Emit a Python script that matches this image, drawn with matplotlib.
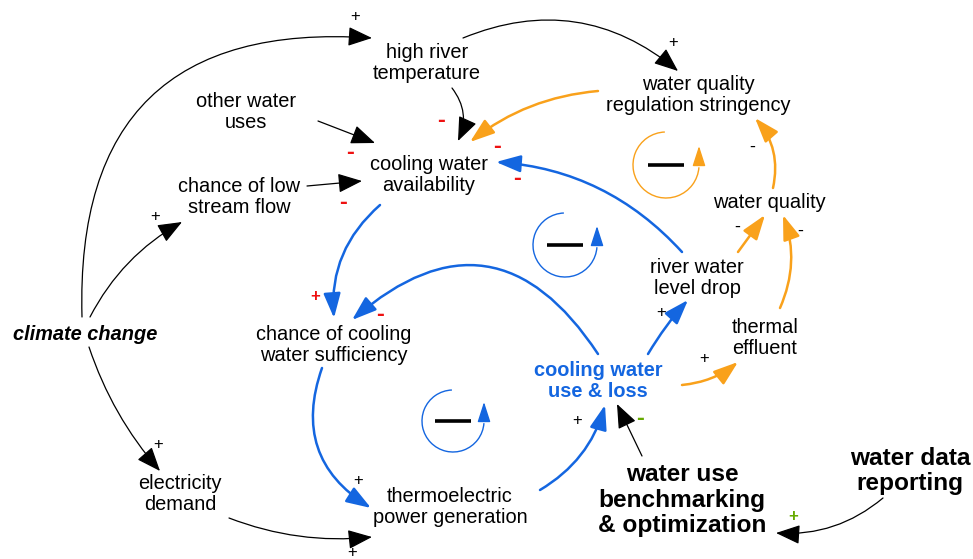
import matplotlib.pyplot as plt
from matplotlib.patches import FancyArrowPatch, Arc

plt.rcParams['font.family'] = ['Liberation Sans', 'DejaVu Sans']

# nodes of the causal loop diagram
node_names = ['hrt', 'wqrs', 'owu', 'cwa', 'lsf', 'wq', 'rwld', 'cc', 'ccws',
              'te', 'cwul', 'ed', 'tpg', 'wub', 'wdr']
node_labels = ['high river\ntemperature', 'water quality\nregulation stringency',
               'other water\nuses', 'cooling water\navailability',
               'chance of low\nstream flow', 'water quality',
               'river water\nlevel drop', 'climate change',
               'chance of cooling\nwater sufficiency', 'thermal\neffluent',
               'cooling water\nuse & loss', 'electricity\ndemand',
               'thermoelectric\npower generation',
               'water use\nbenchmarking\n& optimization',
               'water data\nreporting']

# causal links: source, target, polarity, link colour
edge_src = ['cc', 'cc', 'cc', 'ed', 'owu', 'lsf', 'hrt', 'hrt', 'wqrs', 'rwld',
            'cwa', 'cwul', 'ccws', 'tpg', 'cwul', 'cwul', 'te', 'rwld', 'wq',
            'wub', 'wdr']
edge_dst = ['hrt', 'lsf', 'ed', 'tpg', 'cwa', 'cwa', 'cwa', 'wqrs', 'cwa', 'cwa',
            'ccws', 'ccws', 'tpg', 'cwul', 'rwld', 'te', 'wq', 'wq', 'wqrs',
            'cwul', 'wub']
edge_sign = ['+', '+', '+', '+', '-', '-', '-', '+', '-', '-',
             '+', '-', '+', '+', '+', '+', '-', '-', '-', '-', '+']
edge_kind = ['k', 'k', 'k', 'k', 'k', 'k', 'k', 'k', 'o', 'b',
             'b', 'b', 'b', 'b', 'b', 'o', 'o', 'o', 'o', 'k', 'k']
sign_kind = ['k', 'k', 'k', 'k', 'r', 'r', 'r', 'k', 'r', 'r',
             'r', 'r', 'k', 'k', 'k', 'k', 'k', 'k', 'k', 'g', 'g']

# balancing loops: colour of each loop marker
loop_kind = ['o', 'b', 'b']

# ---- layout (pixel space of the picture) ----
node_xy = {'hrt': (427, 63), 'wqrs': (698, 95), 'owu': (246, 112),
           'cwa': (429, 175), 'lsf': (239, 197), 'wq': (769, 203),
           'rwld': (697, 278), 'cc': (85, 334), 'ccws': (334, 345),
           'te': (765, 338), 'cwul': (598, 381), 'ed': (180, 494),
           'tpg': (450, 507), 'wub': (682, 500), 'wdr': (910, 471)}
edge_start = [(82, 317), (90, 317), (89, 347), (229, 518), (318, 121), (307, 186),
              (452, 88), (463, 38), (598, 91), (682, 252), (380, 205), (598, 354),
              (322, 368), (540, 490), (648, 354), (682, 385), (780, 308),
              (738, 252), (773, 188), (642, 456), (883, 498)]
edge_end = [(372, 38), (182, 222), (160, 471), (372, 537), (375, 143), (362, 181),
            (458, 141), (678, 71), (470, 142), (496, 162), (334, 318), (352, 320),
            (371, 508), (605, 405), (688, 300), (738, 362), (783, 215),
            (765, 215), (755, 118), (617, 404), (776, 533)]
edge_rad = [-0.55, -0.15, 0.1, 0.12, 0.0, 0.0, -0.3, -0.3, 0.15, 0.2,
            0.25, 0.57, 0.4, 0.2, -0.05, 0.15, 0.2, 0.0, 0.25, 0.0, -0.2]
sign_xy = [(355, 17), (155, 216), (158, 445), (352, 553), (350, 153), (343, 202),
           (441, 121), (673, 43), (497, 146), (517, 178), (315, 297), (380, 314),
           (358, 480), (577, 421), (661, 312), (704, 358), (800, 231),
           (737, 227), (752, 147), (640, 419), (793, 516)]
loop_xy = [(666, 165), (565, 245), (453, 421)]
loop_r = [33, 32, 31]

colors = {'k': 'black', 'b': '#1466e0', 'o': '#f9a11b', 'r': '#ee1111',
          'g': '#66aa00'}

fig = plt.figure(figsize=(9.73, 5.59), dpi=100)
ax = fig.add_axes([0, 0, 1, 1])
ax.set_xlim(0, 973)
ax.set_ylim(559, 0)
ax.axis('off')

# node labels
for name, label in zip(node_names, node_labels):
    x, y = node_xy[name]
    kw = dict(fontsize=14.4, color='black', linespacing=1.18)
    if name == 'cc':
        kw.update(fontweight='bold', fontstyle='italic')
    elif name == 'cwul':
        kw.update(fontweight='bold', color=colors['b'])
    elif name in ('wub', 'wdr'):
        kw.update(fontweight='bold', fontsize=17.6, linespacing=1.12)
    ax.text(x, y, label, ha='center', va='center', multialignment='center', **kw)

# links
for i in range(len(edge_src)):
    c = colors[edge_kind[i]]
    lw = 0.9 if edge_kind[i] == 'k' else 1.8
    hw = 0.3 if edge_kind[i] == 'k' else 0.26
    arr = FancyArrowPatch(edge_start[i], edge_end[i],
                          connectionstyle='arc3,rad=%s' % edge_rad[i],
                          arrowstyle='-|>,head_length=0.75,head_width=%s' % hw,
                          mutation_scale=20, color=c, lw=lw,
                          shrinkA=0, shrinkB=0)
    ax.add_patch(arr)
    sx, sy = sign_xy[i]
    sc = colors[sign_kind[i]]
    if edge_sign[i] == '+':
        ax.text(sx, sy, '+', ha='center', va='center', fontsize=12, color=sc,
                fontweight='bold' if sign_kind[i] != 'k' else 'normal')
    elif sign_kind[i] == 'k':
        ax.text(sx, sy, '-', ha='center', va='center', fontsize=13, color=sc)
    else:
        ax.text(sx, sy, '-', ha='center', va='center', fontsize=17, color=sc,
                fontweight='bold')

# balancing loop markers
for (cx, cy), r, k in zip(loop_xy, loop_r, loop_kind):
    c = colors[k]
    ax.add_patch(Arc((cx, cy), 2 * r, 2 * r, theta1=4, theta2=268, color=c, lw=1))
    ax.add_patch(FancyArrowPatch((cx + r, cy - 2), (cx + r, cy - 19),
                                 arrowstyle='-|>,head_length=0.62,head_width=0.2',
                                 mutation_scale=20, color=c, lw=1,
                                 shrinkA=0, shrinkB=0))
    ax.plot([cx - 18, cx + 18], [cy, cy], color='black', lw=2.6,
            solid_capstyle='butt')

fig.savefig('out.png', dpi=100)
